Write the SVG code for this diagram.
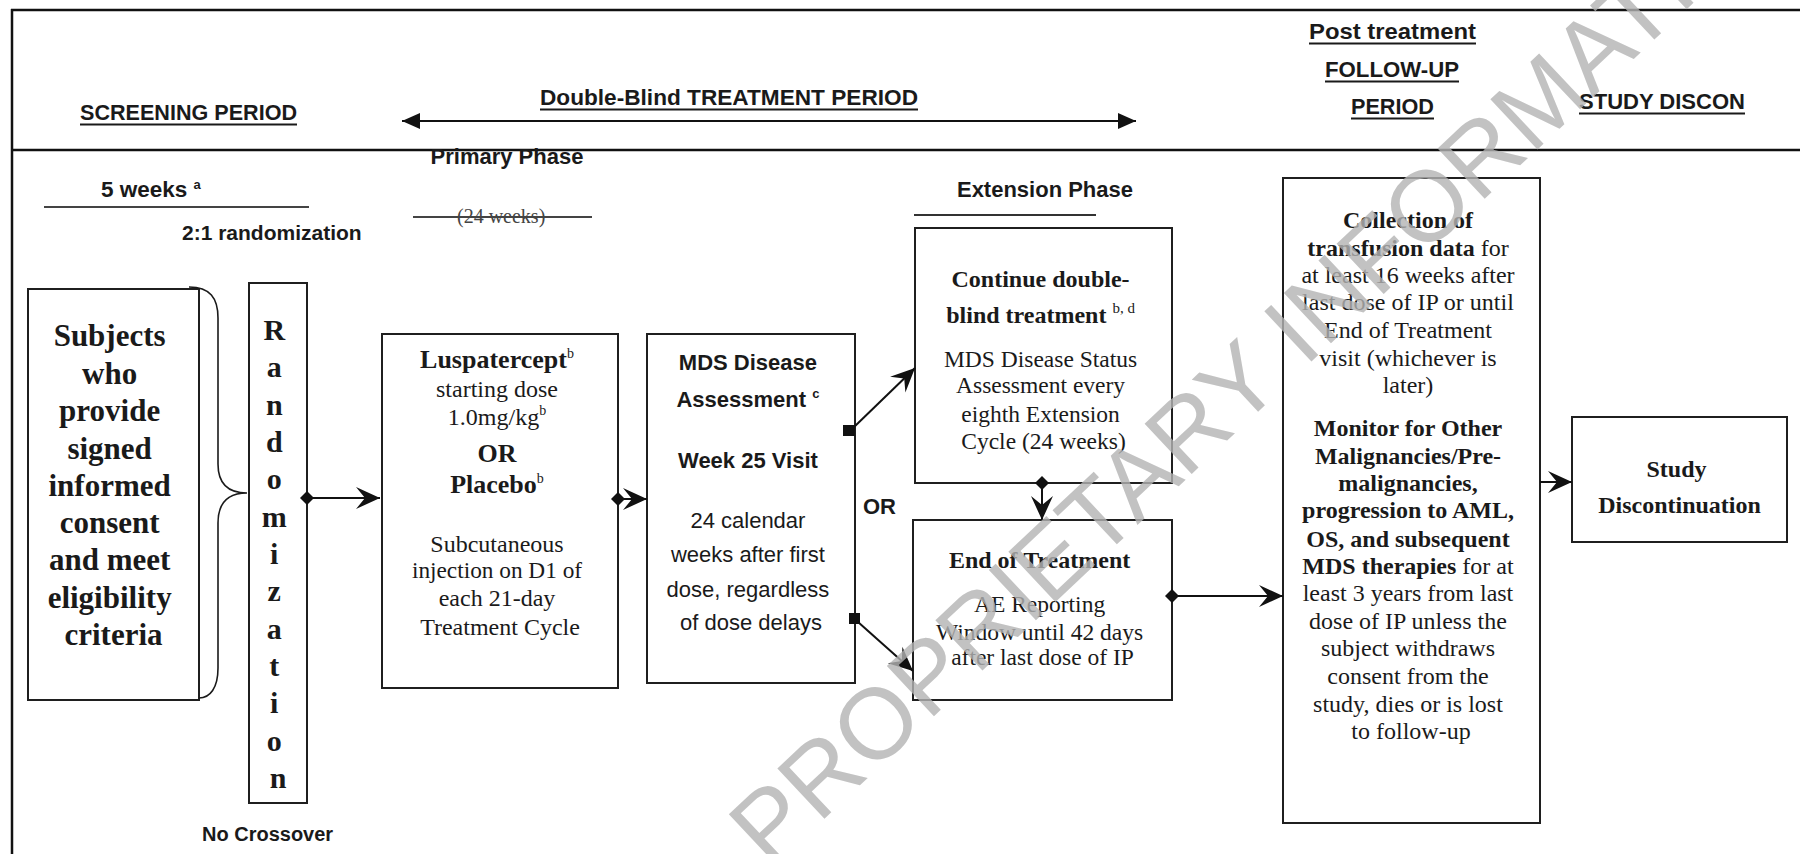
<svg xmlns="http://www.w3.org/2000/svg" width="1800" height="854" viewBox="0 0 1800 854">
<defs>
<style>
.sans{font-family:"Liberation Sans",Arial,sans-serif;fill:#1a1a1a}
.serif{font-family:"Liberation Serif","Times New Roman",serif;fill:#1a1a1a}
.b{font-weight:bold}
.hdr{font-size:22px;font-weight:bold}
.box{fill:none;stroke:#1f1f1f;stroke-width:2}
.frame{stroke:#111;stroke-width:2.5;fill:none}
.ul{stroke:#1a1a1a;stroke-width:2}
.conn{stroke:#111;stroke-width:2;fill:none}
.mid{text-anchor:middle}
.wm{font-family:"Liberation Sans",Arial,sans-serif;font-size:100px;fill:#b4b4b4;opacity:0.8}
</style>
<marker id="arr" viewBox="-26 -13 28 26" refX="0" refY="0" markerWidth="28" markerHeight="26" markerUnits="userSpaceOnUse" orient="auto">
<path d="M0,0 L-24,-11 L-15,0 L-24,11 Z" fill="#111"/>
</marker>
<marker id="tri" viewBox="-20 -10 22 20" refX="0" refY="0" markerWidth="22" markerHeight="20" markerUnits="userSpaceOnUse" orient="auto-start-reverse">
<path d="M0,0 L-18,-8 L-18,8 Z" fill="#111"/>
</marker>
<marker id="dia" viewBox="-9 -9 18 18" refX="0" refY="0" markerWidth="18" markerHeight="18" markerUnits="userSpaceOnUse">
<path d="M-7,0 L0,-7 L7,0 L0,7 Z" fill="#111"/>
</marker>
</defs>
<rect width="1800" height="854" fill="#fff"/>

<g id="frame">
<line class="frame" x1="11" y1="10" x2="1800" y2="10"/>
<line class="frame" x1="12" y1="9" x2="12" y2="854"/>
<line class="frame" x1="12" y1="150" x2="1800" y2="150"/>
</g>

<g id="header">
<text class="sans hdr" x="80" y="120" textLength="217" lengthAdjust="spacingAndGlyphs">SCREENING PERIOD</text>
<line class="ul" x1="80" y1="124.5" x2="297" y2="124.5"/>
<text class="sans hdr" x="540" y="105" textLength="378" lengthAdjust="spacingAndGlyphs">Double-Blind TREATMENT PERIOD</text>
<line class="ul" x1="540" y1="109.5" x2="918" y2="109.5"/>
<text class="sans hdr" x="1309" y="39" textLength="167" lengthAdjust="spacingAndGlyphs">Post treatment</text>
<line class="ul" x1="1309" y1="43.5" x2="1476" y2="43.5"/>
<text class="sans hdr" x="1325" y="77" textLength="134" lengthAdjust="spacingAndGlyphs">FOLLOW-UP</text>
<line class="ul" x1="1325" y1="81.5" x2="1459" y2="81.5"/>
<text class="sans hdr" x="1351" y="114" textLength="83" lengthAdjust="spacingAndGlyphs">PERIOD</text>
<line class="ul" x1="1351" y1="118.5" x2="1434" y2="118.5"/>
<text class="sans hdr" x="1579" y="109" textLength="166" lengthAdjust="spacingAndGlyphs">STUDY DISCON</text>
<line class="ul" x1="1579" y1="113.5" x2="1745" y2="113.5"/>
<line class="conn" x1="402" y1="121" x2="1136" y2="121" marker-start="url(#tri)" marker-end="url(#tri)"/>
</g>

<g id="phase-labels">
<text class="sans b mid" x="507" y="164" font-size="22">Primary Phase</text>
<text class="sans b" x="101" y="197" font-size="22.5">5 weeks <tspan font-size="13" dy="-8">a</tspan></text>
<line x1="44" y1="207" x2="309" y2="207" stroke="#444" stroke-width="2"/>
<text class="sans b" x="182" y="240" font-size="21">2:1 randomization</text>
<text class="serif" x="457" y="223" font-size="20" style="fill:#444">(24 weeks)</text>
<line x1="413" y1="217" x2="592" y2="217" stroke="#444" stroke-width="2"/>
<text class="sans b mid" x="1045" y="197" font-size="22">Extension Phase</text>
<line x1="914" y1="215" x2="1096" y2="215" stroke="#333" stroke-width="2"/>
<text class="sans b" x="863" y="514" font-size="22">OR</text>
<text class="sans b" x="202" y="841" font-size="20">No Crossover</text>
</g>

<g id="subjects">
<rect class="box" x="28" y="289" width="171" height="411"/>
<path d="M189,287 C210,287 218,298 218,318 L218,464 C218,484 228,493 247,493 C228,493 218,502 218,523 L218,668 C218,688 210,698 199,698" fill="none" stroke="#1a1a1a" stroke-width="1.6"/>
<text class="serif b mid" font-size="31" x="113.5">
<tspan x="113.5" y="346">Subjects</tspan>
<tspan x="113.5" y="384">who</tspan>
<tspan x="113.5" y="421">provide</tspan>
<tspan x="113.5" y="459">signed</tspan>
<tspan x="113.5" y="496">informed</tspan>
<tspan x="113.5" y="533">consent</tspan>
<tspan x="113.5" y="570">and meet</tspan>
<tspan x="113.5" y="608">eligibility</tspan>
<tspan x="113.5" y="645">criteria</tspan>
</text>
</g>

<g id="randomization">
<rect class="box" x="249" y="283" width="58" height="520"/>
<text class="serif b mid" font-size="30">
<tspan x="278" y="340">R</tspan>
<tspan x="278" y="377">a</tspan>
<tspan x="278" y="415">n</tspan>
<tspan x="278" y="452">d</tspan>
<tspan x="278" y="489">o</tspan>
<tspan x="278" y="527">m</tspan>
<tspan x="278" y="564">i</tspan>
<tspan x="278" y="601">z</tspan>
<tspan x="278" y="639">a</tspan>
<tspan x="278" y="676">t</tspan>
<tspan x="278" y="713">i</tspan>
<tspan x="278" y="751">o</tspan>
<tspan x="278" y="788">n</tspan>
</text>
</g>

<g id="luspatercept">
<rect class="box" x="382" y="334" width="236" height="354"/>
<text class="serif mid" x="500" font-size="24">
<tspan x="500" y="368" font-weight="bold" font-size="26">Luspatercept<tspan font-size="14" font-weight="normal" dy="-10">b</tspan></tspan>
<tspan x="500" y="397">starting dose</tspan>
<tspan x="500" y="425">1.0mg/kg<tspan font-size="14" dy="-10">b</tspan></tspan>
<tspan x="500" y="462" font-weight="bold" font-size="26">OR</tspan>
<tspan x="500" y="493" font-weight="bold" font-size="26">Placebo<tspan font-size="14" font-weight="normal" dy="-10">b</tspan></tspan>
<tspan x="500" y="552">Subcutaneous</tspan>
<tspan x="500" y="578" font-size="23.3">injection on D1 of</tspan>
<tspan x="500" y="606">each 21-day</tspan>
<tspan x="500" y="635">Treatment Cycle</tspan>
</text>
</g>

<g id="mds-assessment">
<rect class="box" x="647" y="334" width="208" height="349"/>
<text class="sans mid" font-size="22">
<tspan x="751" y="370" font-weight="bold">MDS Disease</tspan>
<tspan x="751" y="407" font-weight="bold">Assessment <tspan font-size="13" dy="-9">c</tspan></tspan>
<tspan x="751" y="468" font-weight="bold">Week 25 Visit</tspan>
<tspan x="751" y="528">24 calendar</tspan>
<tspan x="751" y="562">weeks after first</tspan>
<tspan x="751" y="597">dose, regardless</tspan>
<tspan x="751" y="630">of dose delays</tspan>
</text>
</g>

<g id="continue">
<rect class="box" x="915" y="228" width="257" height="255"/>
<text class="serif mid" font-size="23.5">
<tspan x="1043.5" y="287" font-weight="bold" font-size="24">Continue double-</tspan>
<tspan x="1043.5" y="323" font-weight="bold" font-size="24">blind treatment <tspan font-size="15" font-weight="normal" dy="-10">b, d</tspan></tspan>
<tspan x="1043.5" y="367">MDS Disease Status</tspan>
<tspan x="1043.5" y="393">Assessment every</tspan>
<tspan x="1043.5" y="422">eighth Extension</tspan>
<tspan x="1043.5" y="449">Cycle (24 weeks)</tspan>
</text>
</g>

<g id="end-of-treatment">
<rect class="box" x="913" y="520" width="259" height="180"/>
<text class="serif mid" font-size="23.5">
<tspan x="1042.5" y="568" font-weight="bold" font-size="24">End of Treatment</tspan>
<tspan x="1042.5" y="612">AE Reporting</tspan>
<tspan x="1042.5" y="640">Window until 42 days</tspan>
<tspan x="1042.5" y="665">after last dose of IP</tspan>
</text>
</g>

<g id="follow-up">
<rect class="box" x="1283" y="178" width="257" height="645"/>
<text class="serif mid" font-size="24">
<tspan x="1411" y="228" font-weight="bold">Collection of</tspan>
<tspan x="1411" y="256"><tspan font-weight="bold">transfusion data</tspan> for</tspan>
<tspan x="1411" y="283">at least 16 weeks after</tspan>
<tspan x="1411" y="310">last dose of IP or until</tspan>
<tspan x="1411" y="338">End of Treatment</tspan>
<tspan x="1411" y="366">visit (whichever is</tspan>
<tspan x="1411" y="393">later)</tspan>
<tspan x="1411" y="436" font-weight="bold">Monitor for Other</tspan>
<tspan x="1411" y="464" font-weight="bold">Malignancies/Pre-</tspan>
<tspan x="1411" y="491" font-weight="bold">malignancies,</tspan>
<tspan x="1411" y="518" font-weight="bold">progression to AML,</tspan>
<tspan x="1411" y="547" font-weight="bold">OS, and subsequent</tspan>
<tspan x="1411" y="574"><tspan font-weight="bold">MDS therapies</tspan> for at</tspan>
<tspan x="1411" y="601">least 3 years from last</tspan>
<tspan x="1411" y="629">dose of IP unless the</tspan>
<tspan x="1411" y="656">subject withdraws</tspan>
<tspan x="1411" y="684">consent from the</tspan>
<tspan x="1411" y="712">study, dies or is lost</tspan>
<tspan x="1411" y="739">to follow-up</tspan>
</text>
</g>

<g id="study-discontinuation">
<rect class="box" x="1572" y="417" width="215" height="125"/>
<text class="serif b mid" font-size="24">
<tspan x="1679.5" y="477">Study</tspan>
<tspan x="1679.5" y="513">Discontinuation</tspan>
</text>
</g>

<g id="connectors">
<line class="conn" x1="307" y1="498" x2="380" y2="498" marker-start="url(#dia)" marker-end="url(#arr)"/>
<line class="conn" x1="618" y1="499" x2="647" y2="499" marker-start="url(#dia)" marker-end="url(#arr)"/>
<rect x="843" y="425" width="12" height="11" fill="#111"/>
<line class="conn" x1="853" y1="428" x2="915" y2="368" marker-end="url(#arr)"/>
<rect x="849" y="613" width="11" height="11" fill="#111"/>
<line class="conn" x1="858" y1="622" x2="913" y2="671" marker-end="url(#arr)"/>
<line class="conn" x1="1042" y1="483" x2="1042" y2="520" marker-start="url(#dia)" marker-end="url(#arr)"/>
<line class="conn" x1="1172" y1="596" x2="1283" y2="596" marker-start="url(#dia)" marker-end="url(#arr)"/>
<line class="conn" x1="1540" y1="482" x2="1572" y2="482" marker-end="url(#arr)"/>
</g>

<g id="watermark">
<text class="wm" transform="translate(770,870) rotate(-43.2)">PROPRIETARY INFORMATION</text>
</g>
</svg>
